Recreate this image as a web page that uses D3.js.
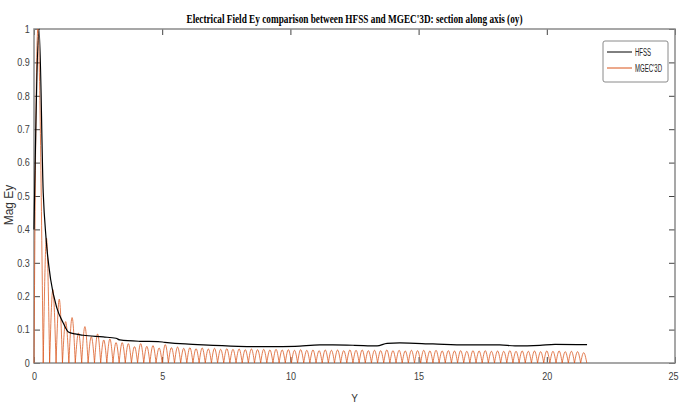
<!DOCTYPE html>
<html>
<head>
<meta charset="utf-8">
<script src="https://cdn.jsdelivr.net/npm/d3@7.9.0/dist/d3.min.js"></script>
<style>
  body { margin: 0; background: #fff; }
  svg { display: block; }
</style>
</head>
<body>
<div id="chart"></div>
<script>
// tick values
const xTicks = [0, 5, 10, 15, 20, 25];
const yTicks = [0, 0.1, 0.2, 0.3, 0.4, 0.5, 0.6, 0.7, 0.8, 0.9, 1];

// HFSS curve: [Y, Mag Ey]
const hfssPoints = [
  [0, 0.40], [0.2, 1.0], [0.36, 0.51], [0.47, 0.374], [0.65, 0.25],
  [0.89, 0.165], [1.14, 0.12], [1.34, 0.093], [1.6, 0.087], [1.92, 0.083],
  [2.7, 0.078], [3.2, 0.074], [3.35, 0.069], [4.13, 0.065], [4.84, 0.064],
  [5.1, 0.062], [5.9, 0.057], [6.6, 0.054], [7.96, 0.050], [9.2, 0.049],
  [10.18, 0.050], [11.15, 0.054], [11.66, 0.054], [12.5, 0.053], [13.38, 0.051],
  [13.77, 0.059], [14.27, 0.060], [15.56, 0.057], [16.85, 0.054], [18.17, 0.054],
  [18.76, 0.051], [19.73, 0.053], [20.32, 0.056], [21.57, 0.055]
];

// MGEC'3D: positions where the curve touches zero, and the height of each arch between them
const mgecZeros = [
  0, 0.36, 0.61, 0.86, 1.11, 1.36, 1.61, 1.86, 2.11, 2.36, 2.60,
  2.84, 3.08, 3.32, 3.56, 3.80, 4.04, 4.28, 4.52, 4.76, 5.00, 5.24, 5.48, 5.72, 5.96,
  6.20, 6.44, 6.68, 6.92, 7.16, 7.40, 7.64, 7.88, 8.12, 8.36, 8.60, 8.84, 9.08, 9.32,
  9.56, 9.80, 10.04, 10.28, 10.52, 10.76, 11.00, 11.24, 11.48, 11.72, 11.96, 12.20,
  12.44, 12.68, 12.92, 13.16, 13.40, 13.64, 13.88, 14.12, 14.36, 14.60, 14.84, 15.08,
  15.32, 15.56, 15.80, 16.04, 16.28, 16.52, 16.76, 17.00, 17.24, 17.48, 17.72, 17.96,
  18.20, 18.44, 18.68, 18.92, 19.16, 19.40, 19.64, 19.88, 20.12, 20.36, 20.60, 20.84,
  21.08, 21.32, 21.56
];
const mgecPeaks = [
  1.0, 0.374, 0.22, 0.191, 0.124, 0.136, 0.09, 0.109, 0.079, 0.087,
  0.069, 0.072, 0.061, 0.061, 0.058, 0.049, 0.058, 0.05, 0.052, 0.045,
  0.055, 0.046, 0.048, 0.044, 0.046, 0.043, 0.045, 0.042, 0.044, 0.041,
  0.043, 0.041, 0.042, 0.04, 0.042, 0.04, 0.041, 0.039, 0.041, 0.039,
  0.04, 0.038, 0.04, 0.038, 0.039, 0.037, 0.039, 0.038, 0.039, 0.037,
  0.039, 0.038, 0.039, 0.037, 0.038, 0.037, 0.039, 0.037, 0.038, 0.036,
  0.038, 0.037, 0.038, 0.036, 0.038, 0.036, 0.037, 0.036, 0.037, 0.035,
  0.037, 0.036, 0.037, 0.035, 0.036, 0.035, 0.037, 0.035, 0.036, 0.035,
  0.036, 0.034, 0.036, 0.035, 0.036, 0.034, 0.035, 0.034, 0.031
];
const firstPeakY = 0.15; // the first arch leans left

const legendItems = [
  { name: 'HFSS', color: '#000000', len: 16 },
  { name: "MGEC'3D", color: '#D95319', len: 27 }
];

const width = 679;
const height = 408;
const plot = { left: 34, right: 675, top: 29, bottom: 363 };

const x = d3.scaleLinear().domain([0, 25]).range([plot.left, plot.right]);
const y = d3.scaleLinear().domain([0, 1]).range([plot.bottom, plot.top]);

const svg = d3.select('#chart')
  .append('svg')
  .attr('width', width)
  .attr('height', height);

svg.append('rect')
  .attr('width', width).attr('height', height)
  .attr('fill', '#fff');

// axes with inward ticks
const sx = 0.86; // the picture is squeezed sideways
function styleAxis(g) {
  g.select('.domain').remove();
  g.selectAll('.tick line').attr('stroke', '#444').attr('stroke-width', 1);
  g.selectAll('.tick text')
    .attr('fill', '#404040')
    .style('font-family', 'Liberation Sans, Arial, sans-serif')
    .style('font-size', '10.5px');
}

svg.append('g')
  .attr('transform', `translate(0,${plot.bottom})`)
  .call(d3.axisBottom(x).tickValues(xTicks).tickSize(-6).tickPadding(10).tickFormat(d3.format('d')))
  .call(styleAxis)
  .call(g => g.selectAll('.tick text').attr('transform', `scale(${sx},1)`))
  // last label sits at the window edge: keep it inside
  .call(g => g.selectAll('.tick text').filter(d => d === 25)
    .attr('text-anchor', 'end')
    .attr('x', 3.5));

svg.append('g')
  .attr('transform', `translate(0,${plot.top})`)
  .call(d3.axisTop(x).tickValues(xTicks).tickSize(-6).tickFormat(''))
  .call(styleAxis);

svg.append('g')
  .attr('transform', `translate(${plot.left},0)`)
  .call(d3.axisLeft(y).tickValues(yTicks).tickSize(-6).tickPadding(5).tickFormat(d => d3.format('~g')(d)))
  .call(styleAxis)
  .call(g => g.selectAll('.tick text').attr('transform', `scale(${sx},1)`));

svg.append('g')
  .attr('transform', `translate(${plot.right},0)`)
  .call(d3.axisRight(y).tickValues(yTicks).tickSize(-6).tickFormat(''))
  .call(styleAxis);

// frame
svg.append('rect')
  .attr('x', plot.left).attr('y', plot.top)
  .attr('width', plot.right - plot.left)
  .attr('height', plot.bottom - plot.top)
  .attr('fill', 'none')
  .attr('stroke', '#8a8a8a')
  .attr('stroke-width', 1.5);

// MGEC'3D arches
const arch = d3.line()
  .x(d => x(d[0]))
  .y(d => y(d[1]))
  .curve(d3.curveNatural);

const arches = mgecPeaks.map((p, i) => {
  const a = mgecZeros[i], b = mgecZeros[i + 1];
  const px = i === 0 ? firstPeakY : (a + b) / 2;
  return [[a, 0], [px, p], [b, 0]];
});

svg.append('g')
  .selectAll('path')
  .data(arches)
  .join('path')
  .attr('d', arch)
  .attr('fill', 'none')
  .attr('stroke', legendItems[1].color)
  .attr('stroke-opacity', 0.85)
  .attr('stroke-width', 0.9);

// HFSS
svg.append('path')
  .datum(hfssPoints)
  .attr('d', d3.line().x(d => x(d[0])).y(d => y(d[1])).curve(d3.curveMonotoneX))
  .attr('fill', 'none')
  .attr('stroke', legendItems[0].color)
  .attr('stroke-width', 1.2);

// titles
svg.append('text')
  .attr('x', (plot.left + plot.right) / 2)
  .attr('y', 23)
  .attr('text-anchor', 'middle')
  .attr('textLength', 336)
  .attr('lengthAdjust', 'spacingAndGlyphs')
  .style('font-family', 'Liberation Serif, Times New Roman, serif')
  .style('font-weight', 'bold')
  .style('font-size', '13px')
  .text("Electrical Field Ey comparison between HFSS and MGEC'3D: section along axis (oy)");

svg.append('text')
  .attr('transform', 'translate(13,205) rotate(-90)')
  .attr('text-anchor', 'middle')
  .attr('fill', '#333')
  .style('font-family', 'Liberation Sans, Arial, sans-serif')
  .style('font-size', '12px')
  .text('Mag Ey');

svg.append('text')
  .attr('x', (plot.left + plot.right) / 2)
  .attr('y', 402)
  .attr('text-anchor', 'middle')
  .attr('fill', '#333')
  .style('font-family', 'Liberation Sans, Arial, sans-serif')
  .style('font-size', '10px')
  .text('Y');

// legend
const legend = svg.append('g').attr('transform', 'translate(603,41)');
legend.append('rect')
  .attr('width', 65).attr('height', 41).attr('rx', 2)
  .attr('fill', '#fff')
  .attr('stroke', '#8a8a8a')
  .attr('stroke-width', 1);

const rows = legend.selectAll('g.row')
  .data(legendItems)
  .join('g')
  .attr('class', 'row')
  .attr('transform', (d, i) => `translate(0,${11 + i * 16})`);

rows.append('line')
  .attr('x1', 4).attr('x2', 29)
  .attr('stroke', d => d.color)
  .attr('stroke-width', 1);

rows.append('text')
  .attr('x', 32)
  .attr('dy', '0.35em')
  .attr('textLength', d => d.len)
  .attr('lengthAdjust', 'spacingAndGlyphs')
  .attr('fill', '#222')
  .style('font-family', 'Liberation Sans, Arial, sans-serif')
  .style('font-size', '10px')
  .text(d => d.name);
</script>
</body>
</html>
